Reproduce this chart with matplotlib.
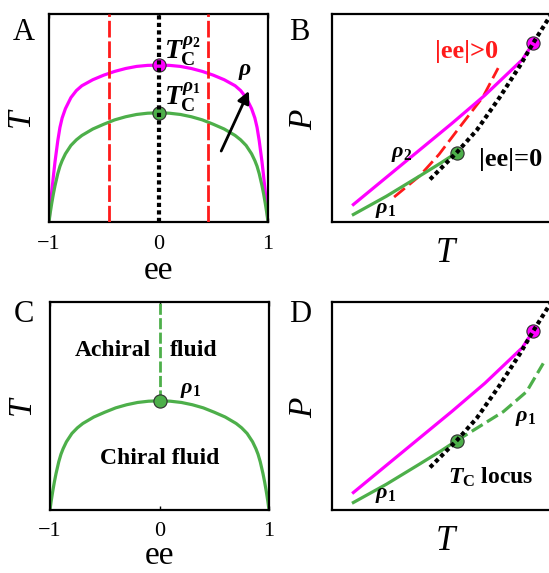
"""
Chiral / achiral fluid phase diagram (4 panels)
"""
import matplotlib
matplotlib.use('Agg')
import matplotlib.pyplot as plt

plt.rcParams['font.family'] = ['Liberation Serif', 'DejaVu Serif']
plt.rcParams['mathtext.fontset'] = 'custom'
plt.rcParams['mathtext.rm'] = 'Liberation Serif:bold'
plt.rcParams['mathtext.it'] = 'Liberation Serif:italic:bold'
plt.rcParams['mathtext.bf'] = 'Liberation Serif:bold'

# ---- data ----
# T(ee) coexistence domes (T in fraction of axis height), right half; mirrored below
ee_half = [0, 0.1, 0.2, 0.3, 0.4, 0.5, 0.6, 0.7, 0.75, 0.8, 0.85, 0.88, 0.9, 0.92, 0.945,
           0.96, 0.975, 0.99, 1]
T_rho1_half = [0.525, 0.523, 0.517, 0.506, 0.491, 0.470, 0.447, 0.416, 0.395, 0.368, 0.328,
               0.295, 0.268, 0.232, 0.175, 0.135, 0.09, 0.04, 0]
T_rho2_half = [0.754, 0.753, 0.748, 0.738, 0.724, 0.706, 0.684, 0.655, 0.632, 0.598, 0.545,
               0.50, 0.455, 0.39, 0.29, 0.22, 0.145, 0.065, 0]
ee_red = [-0.45, 0.45]

# P(T) curves (both axes in fraction of the box)
T_rho2_line = [0.099, 0.25, 0.40, 0.55, 0.70, 0.80, 0.87, 0.921]
P_rho2_line = [0.084, 0.215, 0.345, 0.475, 0.61, 0.71, 0.78, 0.862]
T_rho1_line = [0.099, 0.25, 0.40, 0.50, 0.57]
P_rho1_line = [0.036, 0.124, 0.22, 0.285, 0.333]
T_locus = [0.449, 0.57, 0.662, 0.768, 0.86, 0.921, 1.0]
P_locus = [0.205, 0.333, 0.441, 0.601, 0.752, 0.862, 0.995]
T_red = [0.285, 0.40, 0.49, 0.58, 0.69, 0.76]
P_red = [0.12, 0.22, 0.325, 0.45, 0.60, 0.74]
T_rho1_dash = [0.57, 0.662, 0.784, 0.89, 0.966]
P_rho1_dash = [0.333, 0.393, 0.473, 0.569, 0.705]

ee_dome = [-e for e in ee_half[::-1]] + ee_half[1:]
T_rho1 = T_rho1_half[::-1] + T_rho1_half[1:]
T_rho2 = T_rho2_half[::-1] + T_rho2_half[1:]
Tc1, Tc2 = T_rho1_half[0], T_rho2_half[0]

GREEN = '#4DAF4A'
MAGENTA = '#FF00FF'
RED = '#FF1A1A'
EDGE = '#2E2E2E'

W, H = 549, 573
fig = plt.figure(figsize=(W / 100, H / 100), dpi=100)


def make_axes(left_px, top_px, w_px=219, h_px=208):
    ax = fig.add_axes([left_px / W, 1 - (top_px + h_px) / H, w_px / W, h_px / H])
    for sp in ax.spines.values():
        sp.set_linewidth(1.6)
    ax.set_ylim(0, 1)
    return ax


def dome_axes(ax, ee_y):
    ax.set_xlim(-1, 1)
    ax.set_xticks([-1, 0, 1])
    ax.set_xticklabels(['\u22121', '0', '1'], fontsize=16)
    ax.set_yticks([])
    ax.tick_params(axis='x', direction='in', length=3, width=1, pad=9, top=True)
    ax.text(0.5, ee_y, 'ee', transform=ax.transAxes, ha='center', va='center', fontsize=24)
    ax.text(-0.128, 0.5, 'T', transform=ax.transAxes, ha='center', va='center',
            fontsize=24, style='italic', rotation=90)


def pt_axes(ax):
    ax.set_xlim(0, 1)
    ax.set_xticks([])
    ax.set_yticks([])
    ax.text(0.517, -0.15, 'T', transform=ax.transAxes, ha='center', va='center',
            fontsize=25, style='italic')
    ax.text(-0.126, 0.49, 'P', transform=ax.transAxes, ha='center', va='center',
            fontsize=24, style='italic', rotation=90)


def dotted(ax, x, y):
    ax.plot(x, y, color='black', lw=3, dashes=(1, 0.8), dash_capstyle='butt', zorder=5)


def dot(ax, x, y, c):
    ax.plot([x], [y], 'o', ms=9.5, mfc=c, mec=EDGE, mew=0.8, zorder=4)


# === A ===
axA = make_axes(49, 14)
dome_axes(axA, -0.235)
for e in ee_red:
    axA.plot([e, e], [0, 1], color=RED, lw=2, dashes=(6, 1.4), zorder=3)
axA.plot(ee_dome, T_rho2, color=MAGENTA, lw=2.3, zorder=2)
axA.plot(ee_dome, T_rho1, color=GREEN, lw=2.3, zorder=2)
dot(axA, 0, Tc2, MAGENTA)
dot(axA, 0, Tc1, GREEN)
dotted(axA, [0, 0], [0, 1])
axA.text(0.05, 0.82, r'$T_{\rm C}^{\rho_2}$', fontsize=20, ha='left', va='center')
axA.text(0.05, 0.60, r'$T_{\rm C}^{\rho_1}$', fontsize=20, ha='left', va='center')
axA.annotate('', xy=(0.836, 0.642), xytext=(0.562, 0.329),
             arrowprops=dict(arrowstyle='-|>', lw=2, color='black', mutation_scale=18))
axA.text(0.79, 0.725, r'$\rho$', fontsize=17, ha='center', va='center')

# === B ===
axB = make_axes(331.7, 14)
pt_axes(axB)
axB.plot(T_red, P_red, color=RED, lw=2, dashes=(5, 2), zorder=2)
axB.plot(T_rho2_line, P_rho2_line, color=MAGENTA, lw=2.3, zorder=3)
axB.plot(T_rho1_line, P_rho1_line, color=GREEN, lw=2.3, zorder=3)
dot(axB, T_rho2_line[-1], P_rho2_line[-1], MAGENTA)
dot(axB, T_rho1_line[-1], P_rho1_line[-1], GREEN)
dotted(axB, T_locus, P_locus)
axB.text(0.617, 0.822, '|ee|>0', color=RED, fontsize=19, fontweight='bold', ha='center', va='center')
axB.text(0.815, 0.30, '|ee|=0', color='black', fontsize=19, fontweight='bold', ha='center', va='center')
axB.text(0.32, 0.325, r'$\rho_2$', fontsize=16, ha='center', va='center')
axB.text(0.245, 0.057, r'$\rho_1$', fontsize=16, ha='center', va='center')

# === C ===
axC = make_axes(50, 302)
dome_axes(axC, -0.222)
axC.plot(ee_dome, T_rho1, color=GREEN, lw=2.3, zorder=2)
axC.plot([0, 0], [Tc1, 1], color=GREEN, lw=2, dashes=(4, 1.2), zorder=2)
dot(axC, 0, Tc1, GREEN)
axC.text(-0.425, 0.766, 'Achiral', fontsize=17, fontweight='bold', ha='center', va='center')
axC.text(0.315, 0.766, 'fluid', fontsize=17, fontweight='bold', ha='center', va='center')
axC.text(0.0, 0.25, 'Chiral fluid', fontsize=17, fontweight='bold', ha='center', va='center')
axC.text(0.28, 0.575, r'$\rho_1$', fontsize=16, ha='center', va='center')

# === D ===
axD = make_axes(331.7, 302)
pt_axes(axD)
axD.plot(T_rho2_line, P_rho2_line, color=MAGENTA, lw=2.3, zorder=3)
axD.plot(T_rho1_line, P_rho1_line, color=GREEN, lw=2.3, zorder=3)
axD.plot(T_rho1_dash, P_rho1_dash, color=GREEN, lw=2.3, dashes=(4, 1.6), zorder=3)
dot(axD, T_rho2_line[-1], P_rho2_line[-1], MAGENTA)
dot(axD, T_rho1_line[-1], P_rho1_line[-1], GREEN)
dotted(axD, T_locus, P_locus)
axD.text(0.884, 0.44, r'$\rho_1$', fontsize=16, ha='center', va='center')
axD.text(0.245, 0.072, r'$\rho_1$', fontsize=16, ha='center', va='center')
axD.text(0.728, 0.159, r'$T_{\rm C}$ locus', fontsize=17, fontweight='bold', ha='center', va='center')

# panel letters
for lab, x, y in [('A', 24, 33), ('B', 299, 32), ('C', 24, 314), ('D', 300, 314)]:
    fig.text(x / W, 1 - y / H, lab, fontsize=22, ha='center', va='center')

fig.savefig('out.png', dpi=100, facecolor='white')
